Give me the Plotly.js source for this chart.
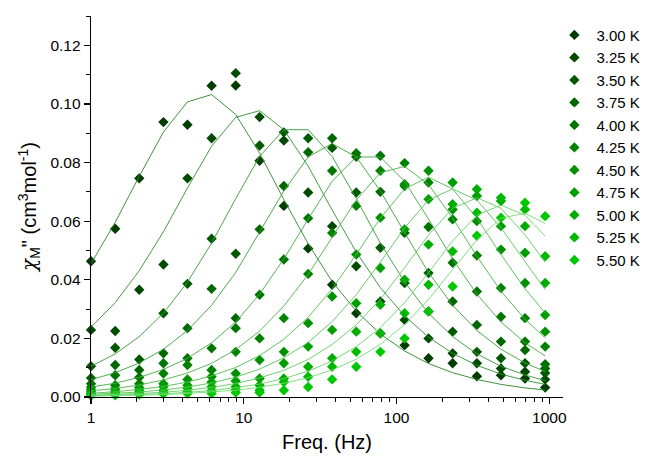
<!DOCTYPE html>
<html>
<head>
<meta charset="utf-8">
<script src="https://cdn.plot.ly/plotly-3.0.1.min.js"></script>
<style>html,body{margin:0;padding:0;background:#fff;}#chart{width:654px;height:458px;}</style>
</head>
<body>
<div id="chart"></div>
<script>
// AC frequencies (Hz)
const freq = [1, 1.44, 2.07, 2.98, 4.28, 6.16, 8.86, 12.7, 18.3, 26.4, 37.9, 54.5, 78.4, 113, 162, 233, 336, 483, 694, 940];
const tempLabels = ["3.00 K","3.25 K","3.50 K","3.75 K","4.00 K","4.25 K","4.50 K","4.75 K","5.00 K","5.25 K","5.50 K"];

// measured chi'' (cm3 mol-1)
const chi300 = [0.0463,0.0574,0.0746,0.0938,0.0929,0.1062,0.1063,0.0806,0.0652,0.0507,0.0383,0.0286,0.0217,0.0177,0.0132,0.0115,0.0071,0.0074,0.0063,0.0032];
const chi325 = [0.0229,0.0225,0.0366,0.0452,0.0746,0.0883,0.1105,0.0955,0.0875,0.0698,0.0583,0.0446,0.0326,0.0263,0.0200,0.0149,0.0115,0.0097,0.0086,0.0060];
const chi350 = [0.0105,0.0168,0.0128,0.0286,0.0386,0.0540,0.0489,0.0858,0.0903,0.0883,0.0850,0.0698,0.0509,0.0389,0.0292,0.0223,0.0154,0.0132,0.0115,0.0082];
const chi375 = [0.0065,0.0109,0.0092,0.0149,0.0235,0.0369,0.0269,0.0572,0.0720,0.0835,0.0883,0.0820,0.0700,0.0560,0.0423,0.0326,0.0246,0.0189,0.0160,0.0097];
const chi400 = [0.0045,0.0074,0.0067,0.0115,0.0132,0.0166,0.0235,0.0349,0.0469,0.0610,0.0772,0.0832,0.0823,0.0720,0.0580,0.0458,0.0360,0.0274,0.0189,0.0112];
const chi425 = [0.0033,0.0040,0.0045,0.0080,0.0109,0.0092,0.0154,0.0200,0.0269,0.0420,0.0560,0.0652,0.0772,0.0798,0.0732,0.0606,0.0483,0.0372,0.0269,0.0172];
const chi450 = [0.0025,0.0028,0.0032,0.0045,0.0060,0.0069,0.0080,0.0126,0.0154,0.0252,0.0343,0.0486,0.0612,0.0726,0.0772,0.0640,0.0600,0.0503,0.0389,0.0223];
const chi475 = [0.0018,0.0020,0.0025,0.0035,0.0040,0.0051,0.0055,0.0063,0.0115,0.0172,0.0229,0.0320,0.0440,0.0572,0.0675,0.0732,0.0686,0.0583,0.0492,0.0280];
const chi500 = [0.0012,0.0015,0.0018,0.0023,0.0030,0.0035,0.0035,0.0040,0.0063,0.0103,0.0132,0.0223,0.0315,0.0400,0.0520,0.0658,0.0709,0.0669,0.0583,0.0389];
const chi525 = [0.0008,0.0010,0.0012,0.0015,0.0018,0.0022,0.0025,0.0023,0.0051,0.0069,0.0103,0.0154,0.0217,0.0286,0.0383,0.0497,0.0629,0.0680,0.0640,0.0480];
const chi550 = [0.0005,0.0006,0.0008,0.0010,0.0012,0.0012,0.0015,0.0015,0.0023,0.0034,0.0060,0.0103,0.0154,0.0200,0.0292,0.0377,0.0550,0.0612,0.0663,0.0617];

// fitted chi'' curves
const fit300 = [0.0455,0.0596,0.0753,0.0904,0.1007,0.1032,0.0964,0.0832,0.0674,0.0523,0.0394,0.0293,0.0215,0.0157,0.0114,0.0083,0.0060,0.0043,0.0031,0.0024];
const fit325 = [0.0238,0.0322,0.0431,0.0564,0.0713,0.0856,0.0954,0.0977,0.0912,0.0788,0.0638,0.0495,0.0373,0.0277,0.0204,0.0149,0.0108,0.0078,0.0057,0.0043];
const fit350 = [0.0105,0.0147,0.0206,0.0286,0.0392,0.0525,0.0677,0.0821,0.0912,0.0912,0.0821,0.0677,0.0525,0.0392,0.0286,0.0206,0.0147,0.0105,0.0075,0.0056];
const fit375 = [0.0059,0.0083,0.0116,0.0163,0.0227,0.0313,0.0425,0.0561,0.0703,0.0819,0.0865,0.0819,0.0703,0.0561,0.0425,0.0313,0.0227,0.0163,0.0116,0.0087];
const fit400 = [0.0034,0.0047,0.0067,0.0094,0.0132,0.0185,0.0256,0.0351,0.0471,0.0607,0.0736,0.0819,0.0819,0.0736,0.0607,0.0471,0.0351,0.0256,0.0185,0.0140];
const fit425 = [0.0021,0.0029,0.0041,0.0058,0.0082,0.0115,0.0162,0.0225,0.0310,0.0418,0.0545,0.0672,0.0765,0.0787,0.0725,0.0611,0.0480,0.0361,0.0265,0.0202];
const fit450 = [0.0013,0.0018,0.0026,0.0036,0.0051,0.0072,0.0101,0.0141,0.0197,0.0272,0.0369,0.0486,0.0610,0.0710,0.0750,0.0710,0.0610,0.0486,0.0369,0.0287];
const fit475 = [0.0009,0.0012,0.0017,0.0024,0.0034,0.0048,0.0068,0.0095,0.0134,0.0186,0.0257,0.0349,0.0460,0.0577,0.0672,0.0710,0.0672,0.0577,0.0460,0.0366];
const fit500 = [0.0006,0.0008,0.0012,0.0016,0.0023,0.0033,0.0046,0.0065,0.0091,0.0128,0.0179,0.0246,0.0334,0.0441,0.0553,0.0644,0.0680,0.0644,0.0553,0.0460];
const fit525 = [0.0004,0.0006,0.0008,0.0011,0.0016,0.0022,0.0032,0.0044,0.0063,0.0088,0.0123,0.0172,0.0237,0.0322,0.0424,0.0533,0.0620,0.0655,0.0620,0.0549];
const fit550 = [0.0003,0.0004,0.0006,0.0008,0.0012,0.0017,0.0023,0.0033,0.0047,0.0066,0.0092,0.0129,0.0180,0.0247,0.0333,0.0435,0.0536,0.0610,0.0627,0.0592];

const chiSeries = [chi300,chi325,chi350,chi375,chi400,chi425,chi450,chi475,chi500,chi525,chi550];
const fitSeries = [fit300,fit325,fit350,fit375,fit400,fit425,fit450,fit475,fit500,fit525,fit550];
const markerColors = ["#003c00","#004a00","#005800","#006600","#007400","#008200","#009000","#009e00","#00ac00","#00ba00","#00c800"];
const lineColors = ["#2a862a","#2f902f","#349a34","#39a339","#3fac3f","#45b545","#4cbd4c","#55c555","#5ecc5e","#68d468","#72dc72"];

const traces = [];
chiSeries.forEach((ys, k) => {
  traces.push({
    x: freq, y: ys, type: 'scatter', mode: 'markers', name: tempLabels[k],
    marker: {symbol: 'diamond', size: 8, color: markerColors[k], line: {width: 0}},
    cliponaxis: false
  });
});
fitSeries.forEach((ys, k) => {
  traces.push({
    x: freq, y: ys, type: 'scatter', mode: 'lines', showlegend: false,
    line: {color: lineColors[k], width: 0.9}, hoverinfo: 'skip'
  });
});

const fam = 'Liberation Sans, Arial, sans-serif';
const axisFont = {family: fam, size: 15.5, color: '#000'};
const layout = {
  width: 654, height: 458,
  margin: {l: 91, r: 91, t: 16, b: 61, autoexpand: false},
  paper_bgcolor: '#fff', plot_bgcolor: '#fff',
  font: axisFont,
  showlegend: true,
  legend: {x: 0.9775, xanchor: 'left', y: 0.993, yanchor: 'top', font: {family: fam, size: 15, color: '#000'}, bgcolor: 'rgba(0,0,0,0)', tracegroupgap: 0, itemwidth: 34},
  xaxis: {
    type: 'log', range: [0, 3.09],
    showline: true, linecolor: '#000', linewidth: 1.3, mirror: false,
    showgrid: false, zeroline: false,
    ticks: 'outside', ticklen: 6, tickwidth: 1.2, tickcolor: '#000',
    tickvals: [1, 10, 100, 1000], ticktext: ['1', '10', '100', '1000'],
    tickfont: axisFont,
    minor: {ticks: 'outside', ticklen: 3.5, tickwidth: 1, tickcolor: '#000', tickvals: [2,3,4,5,6,7,8,9,20,30,40,50,60,70,80,90,200,300,400,500,600,700,800,900]},
    title: {text: 'Freq. (Hz)', font: {family: fam, size: 20, color: '#000'}, standoff: 10}
  },
  yaxis: {
    range: [0, 0.13],
    showline: true, linecolor: '#000', linewidth: 1.3, mirror: false,
    showgrid: false, zeroline: false,
    ticks: 'outside', ticklen: 6, tickwidth: 1.2, tickcolor: '#000',
    dtick: 0.02, tick0: 0, tickformat: '.2f',
    tickfont: axisFont,
    minor: {ticks: 'outside', ticklen: 3.5, tickwidth: 1, tickcolor: '#000', dtick: 0.01},
    title: {text: '<span style="font-family:DejaVu Serif"><i>χ</i></span><sub>M</sub>" (cm<sup>3</sup>mol<sup>-1</sup>)', font: {family: fam, size: 20, color: '#000'}, standoff: 8}
  }
};

Plotly.newPlot('chart', traces, layout, {displayModeBar: false, staticPlot: true});
</script>
</body>
</html>
